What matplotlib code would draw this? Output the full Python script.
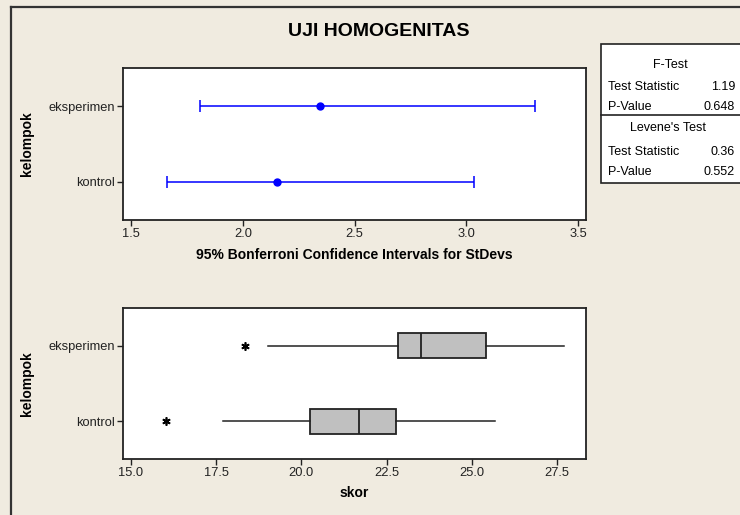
import numpy as np
import matplotlib
matplotlib.use("Agg")
import matplotlib.pyplot as plt
from matplotlib.patches import Rectangle
from matplotlib.lines import Line2D

plt.rcParams["font.family"] = ["Liberation Sans", "DejaVu Sans"]

# ---- data ---------------------------------------------------------------
groups = ["kontrol", "eksperimen"]

# 95% Bonferroni CI for StDevs
sd_est = [2.154, 2.344]
sd_lo = [1.661, 1.810]
sd_hi = [3.034, 3.305]

# box plot stats for skor
whislo = [17.69, 19.02]
q1 = [20.26, 22.84]
med = [21.68, 23.52]
q3 = [22.77, 25.41]
whishi = [25.68, 27.70]
fliers = [[16.03], [18.35]]

# test summary
f_stat, f_p = "1.19", "0.648"
lev_stat, lev_p = "0.36", "0.552"

BG = "#F0EBE0"
W, H = 740, 515

fig = plt.figure(figsize=(W / 100, H / 100), dpi=100)
fig.patch.set_facecolor(BG)


def fx(px):
    return px / W


def fy(py):
    return 1 - py / H


# outer frame (only top and left edges visible in the crop)
fig.add_artist(Line2D([fx(11), fx(11)], [fy(7), -0.1], color="#333333", lw=1.6))
fig.add_artist(Line2D([fx(11), 1.1], [fy(7), fy(7)], color="#333333", lw=1.6))


def style(ax):
    ax.set_facecolor("white")
    for s in ax.spines.values():
        s.set_linewidth(1.3)
        s.set_color("#222222")
    ax.tick_params(direction="out", length=4, width=1, labelsize=9.3, pad=2,
                   colors="#222222")
    ax.set_ylim(-0.5, 1.5)
    ax.set_yticks(range(len(groups)))
    ax.set_yticklabels(groups)


# ---- top: CI for standard deviations -------------------------------------
ax1 = fig.add_axes([fx(123), fy(220), fx(586) - fx(123), (220 - 68) / H])
style(ax1)
ypos = np.arange(len(groups))
err = [np.array(sd_est) - np.array(sd_lo), np.array(sd_hi) - np.array(sd_est)]
ax1.errorbar(sd_est, ypos, xerr=err, fmt="o", color="#0000FF", ms=5,
             capsize=4, elinewidth=1.1, capthick=1.1)
ax1.set_xlim(1.4642, 3.5347)
ax1.set_xticks([1.5, 2.0, 2.5, 3.0, 3.5])
ax1.set_xticklabels(["1.5", "2.0", "2.5", "3.0", "3.5"])

# ---- bottom: box plot of skor --------------------------------------------
ax2 = fig.add_axes([fx(123), fy(459), fx(586) - fx(123), (459 - 308) / H])
style(ax2)
stats = []
for i in range(len(groups)):
    stats.append(dict(whislo=whislo[i], q1=q1[i], med=med[i], q3=q3[i],
                      whishi=whishi[i], fliers=fliers[i]))
ax2.bxp(stats, positions=ypos, orientation="horizontal", widths=0.33,
        patch_artist=True, showcaps=False,
        boxprops=dict(facecolor="#C0C0C0", edgecolor="#222222", lw=1.3),
        medianprops=dict(color="#222222", lw=1.3),
        whiskerprops=dict(color="#222222", lw=1.1),
        flierprops=dict(marker=(6, 2, 0), markersize=6, markeredgecolor="black",
                        markeredgewidth=1.2, linestyle="none"))
ax2.set_xlim(14.765, 28.35)
ax2.set_xticks([15.0, 17.5, 20.0, 22.5, 25.0, 27.5])
ax2.set_xticklabels(["15.0", "17.5", "20.0", "22.5", "25.0", "27.5"])
ax2.set_yticks(range(len(groups)))
ax2.set_yticklabels(groups)

# ---- labels --------------------------------------------------------------
fig.text(fx(379), fy(32), "UJI HOMOGENITAS", ha="center", va="center",
         fontsize=14, fontweight="bold")
fig.text(fx(354), fy(255), "95% Bonferroni Confidence Intervals for StDevs",
         ha="center", va="center", fontsize=10, fontweight="bold")
fig.text(fx(354), fy(493), "skor", ha="center", va="center",
         fontsize=10, fontweight="bold")
for yc in (144, 384):
    fig.text(fx(27), fy(yc), "kelompok", ha="center", va="center",
             rotation=90, fontsize=10, fontweight="bold")

# ---- test summary box ----------------------------------------------------
fig.add_artist(Rectangle((fx(601), fy(183)), 0.5, (183 - 44) / H,
                         facecolor="white", edgecolor="#222222", lw=1.2,
                         transform=fig.transFigure, clip_on=False))
fig.add_artist(Line2D([fx(601), 1.1], [fy(115), fy(115)], color="#222222", lw=1.2))
tkw = dict(fontsize=9, va="center")
fig.text(fx(670), fy(65), "F-Test", ha="center", **tkw)
fig.text(fx(608), fy(87), "Test Statistic", ha="left", **tkw)
fig.text(fx(735), fy(87), f_stat, ha="right", **tkw)
fig.text(fx(608), fy(107), "P-Value", ha="left", **tkw)
fig.text(fx(735), fy(107), f_p, ha="right", **tkw)
fig.text(fx(668), fy(128), "Levene's Test", ha="center", **tkw)
fig.text(fx(608), fy(152), "Test Statistic", ha="left", **tkw)
fig.text(fx(735), fy(152), lev_stat, ha="right", **tkw)
fig.text(fx(608), fy(172), "P-Value", ha="left", **tkw)
fig.text(fx(735), fy(172), lev_p, ha="right", **tkw)

fig.savefig("out.png", dpi=100, facecolor=BG)
